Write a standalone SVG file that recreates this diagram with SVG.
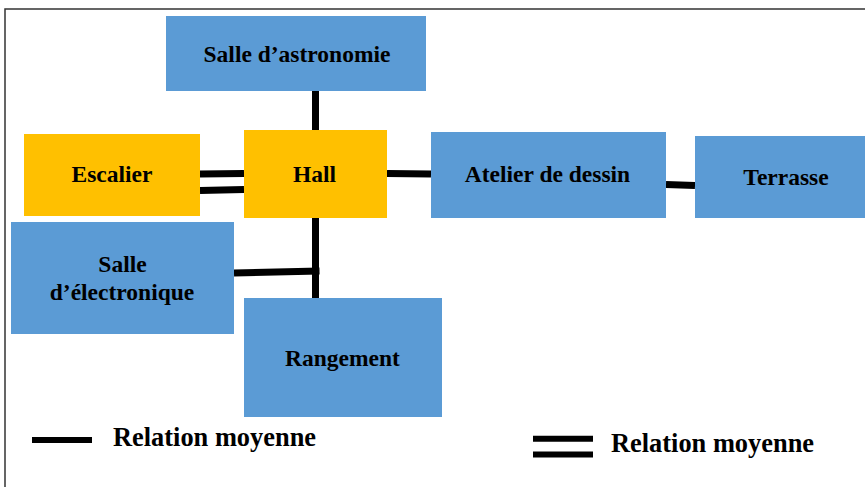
<svg xmlns="http://www.w3.org/2000/svg" width="865" height="487" viewBox="0 0 865 487">
<style>
.blue{fill:#5B9BD5}
.yellow{fill:#FFC000}
text{font-family:'Liberation Serif','Times New Roman','DejaVu Serif',serif;font-weight:bold;fill:#000}
.lbl{font-size:23.5px;text-anchor:middle}
.leg{font-size:26.4px}
.c{stroke:#000;stroke-width:7;fill:none}
.l{stroke:#000;stroke-width:6;fill:none}
</style>
<rect x="5" y="9" width="900" height="500" fill="#fff" stroke="#333" stroke-width="1.5"/>
<g id="connectors">
<line class="c" x1="315.5" y1="90" x2="315.5" y2="130"/>
<line class="c" x1="200" y1="174" x2="244" y2="173.5"/>
<line class="c" x1="200" y1="190.5" x2="244" y2="189.5"/>
<line class="c" x1="387" y1="173.5" x2="431" y2="174"/>
<line class="c" x1="666" y1="184.5" x2="695" y2="185.5"/>
<line class="c" x1="315.5" y1="217" x2="315.5" y2="298"/>
<line class="c" x1="234" y1="273" x2="319.5" y2="271"/>
</g>
<g id="astronomie">
<rect class="blue" x="166" y="16" width="260" height="75"/>
<text class="lbl" x="297" y="61.7" font-family="Liberation Serif, serif">Salle d’astronomie</text>
</g>
<g id="escalier">
<rect class="yellow" x="24" y="134" width="176" height="82"/>
<text class="lbl" x="112" y="182">Escalier</text>
</g>
<g id="hall">
<rect class="yellow" x="244" y="130" width="143" height="88"/>
<text class="lbl" x="314.5" y="182">Hall</text>
</g>
<g id="atelier">
<rect class="blue" x="431" y="132" width="235" height="86"/>
<text class="lbl" x="547.5" y="182">Atelier de dessin</text>
</g>
<g id="terrasse">
<rect class="blue" x="695" y="136" width="175" height="82"/>
<text class="lbl" x="786" y="185">Terrasse</text>
</g>
<g id="electronique">
<rect class="blue" x="11" y="222" width="223" height="112"/>
<text class="lbl" x="122.5" y="272">Salle</text>
<text class="lbl" x="122" y="300">d’électronique</text>
</g>
<g id="rangement">
<rect class="blue" x="244" y="298" width="198" height="119"/>
<text class="lbl" x="342.5" y="366">Rangement</text>
</g>
<g id="legend">
<line class="l" x1="32" y1="440" x2="92" y2="440"/>
<text class="leg" x="113" y="446">Relation moyenne</text>
<line class="l" x1="533" y1="438.7" x2="593" y2="438.7"/>
<line class="l" x1="533" y1="454.5" x2="593" y2="454.5"/>
<text class="leg" x="611" y="451.7">Relation moyenne</text>
</g>
</svg>
